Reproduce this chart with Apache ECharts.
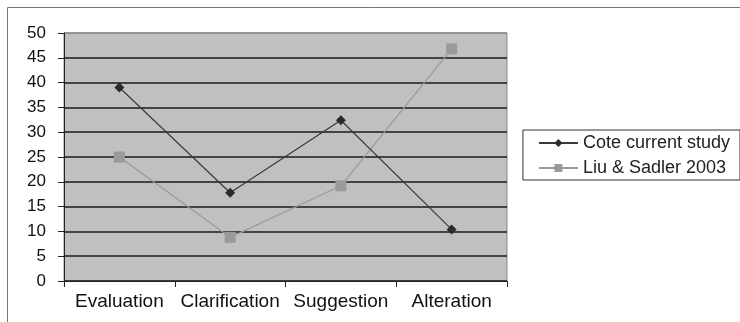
<!DOCTYPE html>
<html>
<head>
<meta charset="utf-8">
<script src="https://cdn.jsdelivr.net/npm/echarts@6/dist/echarts.min.js"></script>
<style>
  html, body { margin: 0; padding: 0; background: #fff; }
  #chart { width: 740px; height: 322px; }
</style>
</head>
<body>
<div id="chart"></div>
<script>
// Feedback categories and percentages for the two studies
const categories = ['Evaluation', 'Clarification', 'Suggestion', 'Alteration'];
const coteValues = [39, 17.8, 32.4, 10.4];
const liuValues = [25, 8.8, 19.2, 46.8];
const yTicks = [0, 5, 10, 15, 20, 25, 30, 35, 40, 45, 50];

const FONT = 'Liberation Sans, Arial, sans-serif';

// Gridlines are dark, except the top one which blends into the plot border
const gridColors = yTicks.map((v, i) => (i === yTicks.length - 1 ? '#8a8a8a' : '#1a1a1a'));

const chart = echarts.init(document.getElementById('chart'), null, { renderer: 'canvas' });

chart.setOption({
  animation: false,
  backgroundColor: '#fff',
  textStyle: { fontFamily: FONT },
  graphic: [
    {
      type: 'rect',
      shape: { x: 7.5, y: 7.5, width: 760, height: 340 },
      style: { fill: 'none', stroke: '#777', lineWidth: 1 },
      z: -1
    }
  ],
  grid: {
    left: 64, right: 233, top: 33, bottom: 41,
    show: true,
    backgroundColor: '#c0c0c0',
    borderColor: '#8a8a8a',
    borderWidth: 1
  },
  legend: {
    orient: 'vertical',
    right: 0, top: 130,
    padding: [4, 10, 3, 15],
    itemGap: 7,
    itemWidth: 39,
    itemHeight: 10,
    borderColor: '#333',
    borderWidth: 1,
    textStyle: { fontSize: 18, color: '#222', fontFamily: FONT },
    data: ['Cote current study', 'Liu & Sadler 2003']
  },
  xAxis: {
    type: 'category',
    data: categories,
    boundaryGap: true,
    axisLine: { lineStyle: { color: '#222', width: 1 } },
    axisTick: { show: true, interval: 0, length: 6, lineStyle: { color: '#222' } },
    axisLabel: { interval: 0, hideOverlap: false, fontSize: 19, color: '#111', margin: 11 },
    splitLine: { show: false }
  },
  yAxis: {
    type: 'value',
    min: 0, max: 50, interval: 5,
    axisLine: { show: true, lineStyle: { color: '#222' } },
    axisTick: { show: true, length: 6, lineStyle: { color: '#222' } },
    axisLabel: {
      fontSize: 17, color: '#111', margin: 18,
      formatter: v => (yTicks.includes(v) ? String(v) : '')
    },
    splitLine: { show: true, lineStyle: { color: gridColors, width: 1.6 } }
  },
  series: [
    {
      name: 'Cote current study',
      type: 'line',
      data: coteValues,
      symbol: 'diamond',
      symbolSize: 10,
      color: '#2a2a2a',
      lineStyle: { color: '#3a3a3a', width: 1.2 },
      itemStyle: { color: '#2a2a2a' },
      z: 3
    },
    {
      name: 'Liu & Sadler 2003',
      type: 'line',
      data: liuValues,
      symbol: 'rect',
      symbolSize: 11,
      color: '#9a9a9a',
      lineStyle: { color: '#9a9a9a', width: 1.2 },
      itemStyle: { color: '#9a9a9a' },
      z: 2
    }
  ]
});
</script>
</body>
</html>
